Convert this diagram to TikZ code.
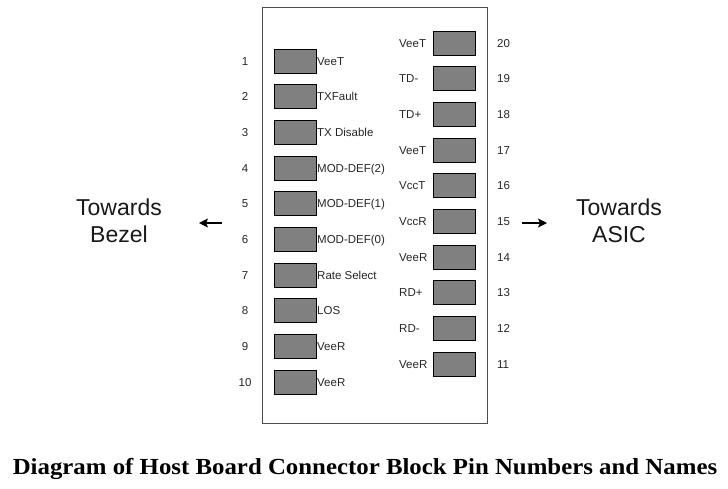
\documentclass[tikz,border=0pt]{standalone}
\usepackage{fontspec}
\setmainfont{Liberation Sans}
\newfontfamily\titlefont{Liberation Serif}
\usetikzlibrary{arrows.meta}
\begin{document}
\begin{tikzpicture}[x=1pt,y=-1pt,
  pinbox/.style={draw=black,fill=black!50,line width=0.9pt,minimum width=42pt,minimum height=24pt,inner sep=0pt,rectangle},
  pinlabel/.style={inner sep=0pt,font=\fontsize{11.5}{13}\selectfont,text=black!85},
  pinnum/.style={inner sep=0pt,font=\fontsize{11.5}{13}\selectfont,text=black!85},
  towards/.style={inner sep=0pt,align=center,font=\fontsize{23}{27}\selectfont,text=black!90},
  dirarrow/.style={-{Stealth[length=9pt,width=9pt,inset=2pt]},line width=1.3pt}]
\useasboundingbox (0,0) rectangle (728,488);
\node[draw=black!70,line width=0.8pt,minimum width=225pt,minimum height=416pt,inner sep=0pt] (block) at (374.5,215) {};
% left pins 1-10
\foreach \n/\lab in {1/VeeT,2/TXFault,3/TX Disable,4/MOD-DEF(2),5/MOD-DEF(1),6/MOD-DEF(0),7/Rate Select,8/LOS,9/VeeR,10/VeeR}{
  \pgfmathsetmacro{\yy}{61+35.67*(\n-1)}
  \node[pinbox] (p\n) at (295,\yy) {};
  \node[pinlabel,anchor=base west] (l\n) at (317,\yy+4) {\lab};
  \node[pinnum,anchor=base] (n\n) at (245,\yy+4) {\n};
}
% right pins 20-11
\foreach \n/\lab in {20/VeeT,19/TD-,18/TD+,17/VeeT,16/VccT,15/VccR,14/VeeR,13/RD+,12/RD-,11/VeeR}{
  \pgfmathsetmacro{\yy}{43+35.67*(20-\n)}
  \node[pinbox] (p\n) at (454.5,\yy) {};
  \node[pinlabel,anchor=base west] (l\n) at (399,\yy+4) {\lab};
  \node[pinnum,anchor=base west] (n\n) at (497,\yy+4) {\n};
}
\node[towards] (bezel) at (119,221) {Towards\\Bezel};
\node[towards] (asic) at (619,221) {Towards\\ASIC};
\coordinate (bl1) at (222,223);
\coordinate (bl2) at (199,223);
\coordinate (ar1) at (522,223);
\coordinate (ar2) at (547,223);
\draw[dirarrow] (bl1) -- (bl2);
\draw[dirarrow] (ar1) -- (ar2);
\node[anchor=base,inner sep=0pt,font=\titlefont\bfseries\fontsize{23}{28}\selectfont] (title) at (365,474) {\scalebox{1.08}[1]{Diagram of Host Board Connector Block Pin Numbers and Names}};
\end{tikzpicture}
\end{document}
